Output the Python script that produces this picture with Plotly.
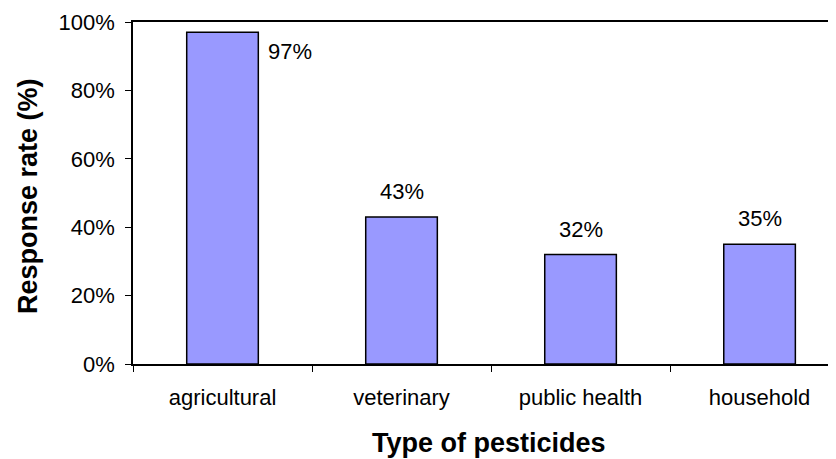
import plotly.graph_objects as go

categories = ["agricultural", "veterinary", "public health", "household"]
values = [0.97, 0.43, 0.32, 0.35]
labels = ["97%", "43%", "32%", "35%"]
y_ticks = [0, 0.2, 0.4, 0.6, 0.8, 1.0]
y_tick_labels = ["0%", "20%", "40%", "60%", "80%", "100%"]

FONT = "Liberation Sans, Arial, sans-serif"

# page has an 8px body margin; figure is placed at (8, 8)
OFF = 8
PL, PR, PT, PB = 133, 836, 22, 364  # plot area in window pixels
PLOT_W = PR - PL
PLOT_H = PB - PT

fig = go.Figure()
fig.add_trace(go.Bar(
    x=categories, y=values, width=0.4,
    marker=dict(color="#9999FF", line=dict(color="black", width=1.5)),
    hoverinfo="skip",
))

for i, (c, v, t) in enumerate(zip(categories, values, labels)):
    if i == 0:
        fig.add_annotation(x=c, y=v, text=t, showarrow=False, xanchor="left",
                           yanchor="middle", xshift=43, yshift=-19,
                           font=dict(family=FONT, size=22, color="black"))
    else:
        fig.add_annotation(x=c, y=v, text=t, showarrow=False, xanchor="center",
                           yanchor="bottom", yshift=11,
                           font=dict(family=FONT, size=22, color="black"))

# axis titles
fig.add_annotation(xref="paper", yref="paper", x=(489 - PL) / PLOT_W, y=-(443 - PB) / PLOT_H,
                   text="<b>Type of pesticides</b>", showarrow=False,
                   xanchor="center", yanchor="middle",
                   font=dict(family=FONT, size=27, color="black"))
fig.add_annotation(xref="paper", yref="paper", x=-(PL - 28) / PLOT_W, y=(PB - 196) / PLOT_H,
                   text="<b>Response rate (%)</b>", showarrow=False, textangle=-90,
                   xanchor="center", yanchor="middle",
                   font=dict(family=FONT, size=27, color="black"))

fig.update_layout(
    width=836 - OFF, height=459 - OFF,
    margin=dict(l=PL - OFF, r=0, t=PT - OFF, b=459 - PB),
    paper_bgcolor="white", plot_bgcolor="white",
    showlegend=False,
    font=dict(family=FONT, color="black"),
    xaxis=dict(
        type="category", range=[-0.5, 3.427], automargin=False,
        showline=True, linecolor="black", linewidth=1.5, mirror=True,
        ticks="outside", tickson="boundaries", ticklen=6, tickcolor="black",
        tickfont=dict(family=FONT, size=22, color="black"),
        showgrid=False, zeroline=False,
        ticklabelstandoff=13,
    ),
    yaxis=dict(
        range=[0, 1.0], tickvals=y_ticks, ticktext=y_tick_labels, automargin=False,
        showline=True, linecolor="black", linewidth=1.5,
        ticks="outside", ticklen=6, tickcolor="black",
        tickfont=dict(family=FONT, size=22, color="black"),
        showgrid=False, zeroline=False,
        ticklabelstandoff=6,
    ),
)

fig.write_html("out.html")
